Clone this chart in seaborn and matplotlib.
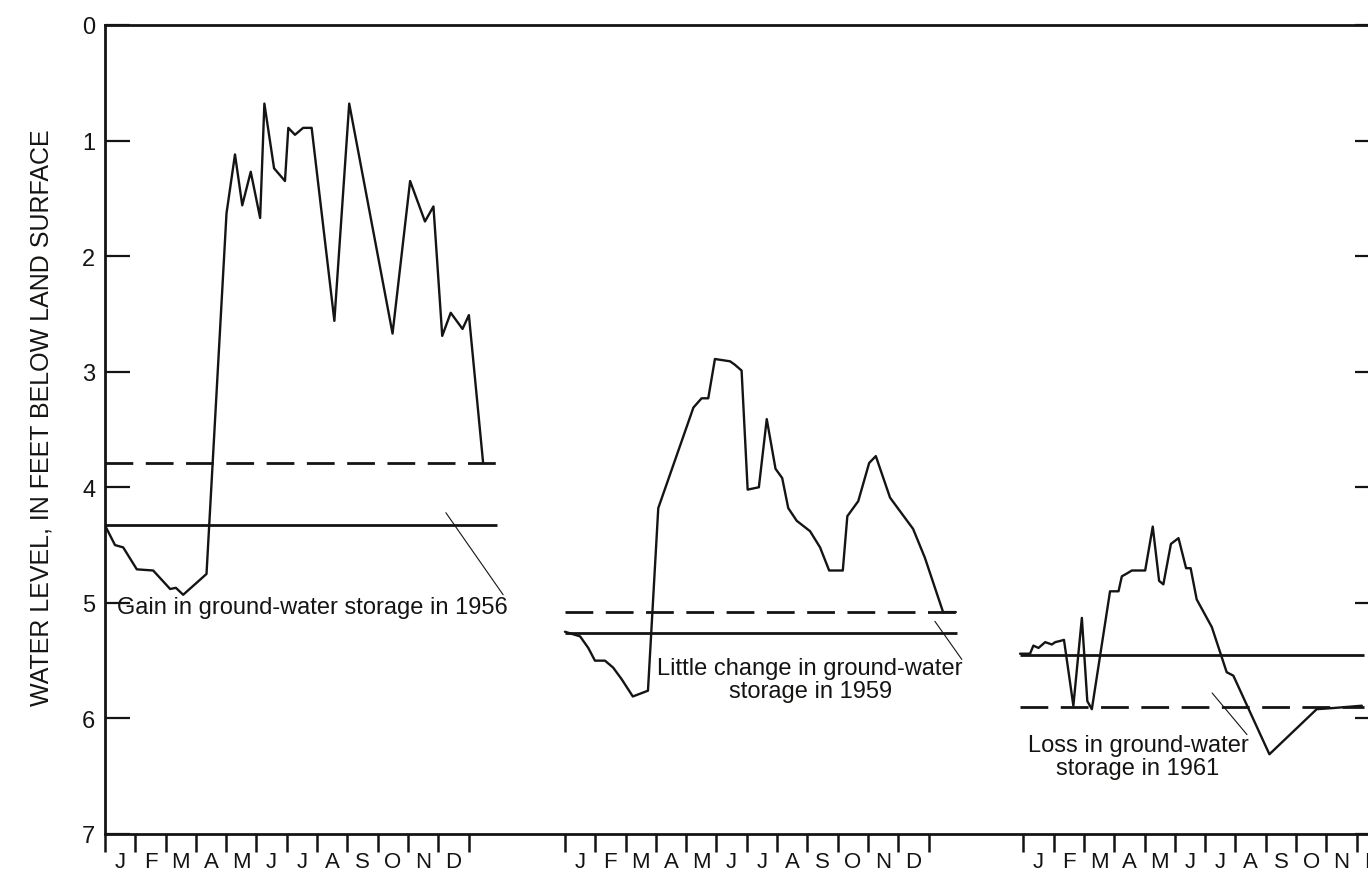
import matplotlib
matplotlib.use("Agg")
import matplotlib.pyplot as plt
import numpy as np
import pandas as pd
import seaborn as sns

# ---- data: water level (ft below land surface) vs. month of year ----
month_letters = ["J", "F", "M", "A", "M", "J", "J", "A", "S", "O", "N", "D"]

m1956 = [0.00, 0.33, 0.60, 1.05, 1.59, 2.15, 2.34, 2.58, 3.35, 4.01, 4.29, 4.53,
         4.81, 5.12, 5.26, 5.58, 5.94, 6.05, 6.27, 6.54, 6.82, 7.57, 8.06, 9.49,
         10.07, 10.56, 10.84, 11.13, 11.41, 11.80, 12.01, 12.48]
d1956 = [4.33, 4.50, 4.52, 4.71, 4.72, 4.88, 4.87, 4.93, 4.75, 1.63, 1.12, 1.56,
         1.27, 1.67, 0.68, 1.24, 1.35, 0.89, 0.95, 0.89, 0.89, 2.56, 0.68, 2.67,
         1.35, 1.70, 1.57, 2.69, 2.49, 2.63, 2.51, 3.79]

m1959 = [0.00, 0.50, 0.77, 0.99, 1.32, 1.59, 1.87, 2.24, 2.74, 3.08, 3.80, 4.24,
         4.51, 4.73, 4.95, 5.45, 5.61, 5.83, 6.03, 6.40, 6.66, 6.95, 7.17, 7.37,
         7.65, 8.09, 8.42, 8.72, 9.17, 9.32, 9.68, 10.04, 10.26, 10.73, 11.49,
         11.88, 12.48, 12.90]
d1959 = [5.25, 5.29, 5.39, 5.50, 5.50, 5.56, 5.66, 5.81, 5.76, 4.18, 3.64, 3.31,
         3.23, 3.23, 2.89, 2.91, 2.94, 2.99, 4.02, 4.00, 3.41, 3.84, 3.92, 4.18,
         4.29, 4.38, 4.52, 4.72, 4.72, 4.25, 4.12, 3.79, 3.73, 4.09, 4.36,
         4.61, 5.08, 5.08]

m1961 = [-0.11, 0.22, 0.33, 0.50, 0.72, 0.94, 1.05, 1.21, 1.34, 1.65, 1.93, 2.11,
         2.26, 2.86, 3.14, 3.25, 3.39, 3.58, 4.02, 4.27, 4.48, 4.62, 4.87, 5.12,
         5.37, 5.52, 5.72, 6.22, 6.71, 6.93, 8.12, 9.68, 10.23, 11.17]
d1961 = [5.44, 5.44, 5.37, 5.39, 5.34, 5.36, 5.34, 5.33, 5.32, 5.89, 5.13, 5.85,
         5.92, 4.90, 4.90, 4.77, 4.75, 4.72, 4.72, 4.34, 4.81, 4.84, 4.49, 4.44,
         4.70, 4.70, 4.97, 5.21, 5.60, 5.63, 6.31, 5.92, 5.91, 5.89]

# beginning-of-year (solid) and end-of-year (dashed) levels
start_levels = [4.33, 5.26, 5.45]
end_levels = [3.79, 5.08, 5.90]
years = [1956, 1959, 1961]
notes = ["Gain in ground-water storage in 1956",
         "Little change in ground-water\nstorage in 1959",
         "Loss in ground-water\nstorage in 1961"]

# ---- layout of the three yearly panels on one shared month axis ----
year_offsets = [0.0, 15.18, 30.31]
level_spans = [(0.0, 12.94), (0.0, 12.94), (-0.11, 11.25)]
n_ticks = [13, 13, 12]
note_xy = [(6.83, 5.04), (8.09, 5.66), (3.78, 6.33)]
leader = [((11.25, 4.22), (13.14, 4.93)),
          ((12.21, 5.16), (13.10, 5.49)),
          ((6.23, 5.78), (7.38, 6.14))]

sns.set_theme(style="white")
plt.rcParams["font.family"] = ["Liberation Sans", "DejaVu Sans"]

ink = "#161412"
fig = plt.figure(figsize=(13.68, 8.87), dpi=100)
fig.patch.set_facecolor("white")
ax = fig.add_axes([105 / 1368, 52 / 887, 1275 / 1368, 809 / 887])
ax.set_facecolor("white")

rows = []
for yr, off, ms, ds in zip(years, year_offsets, [m1956, m1959, m1961], [d1956, d1959, d1961]):
    for m, d in zip(ms, ds):
        rows.append({"year": yr, "x": off + m, "depth": d})
df = pd.DataFrame(rows)

for yr in years:
    sub = df[df["year"] == yr]
    sns.lineplot(data=sub, x="x", y="depth", ax=ax, color=ink, lw=1.7,
                 estimator=None, sort=False, legend=False)

major_ticks, minor_ticks, minor_labels = [], [], []
for i, off in enumerate(year_offsets):
    x0, x1 = level_spans[i]
    ax.plot([off + x0, off + x1], [start_levels[i]] * 2, color=ink, lw=2.0,
            solid_capstyle="butt")
    ax.plot([off + x0, off + x1], [end_levels[i]] * 2, color=ink, lw=2.0,
            dashes=(10, 4.5), dash_capstyle="butt")
    (lx0, ly0), (lx1, ly1) = leader[i]
    ax.plot([off + lx0, off + lx1], [ly0, ly1], color=ink, lw=0.8)
    nx, ny = note_xy[i]
    ax.text(off + nx, ny, notes[i], ha="center", va="center", fontsize=17,
            color=ink, linespacing=1.05)
    major_ticks += [off + k for k in range(n_ticks[i])]
    minor_ticks += [off + k + 0.5 for k in range(12)]
    minor_labels += month_letters

ax.set_xlim(0, 42.08)
ax.set_ylim(7, 0)
ax.set_yticks(range(8))
ax.set_yticklabels([str(v) for v in range(8)])
ax.set_xticks(major_ticks)
ax.set_xticklabels([""] * len(major_ticks))
ax.set_xticks(minor_ticks, minor=True)
ax.set_xticklabels(minor_labels, minor=True)

ax.tick_params(axis="x", which="major", direction="out", length=13, width=1.8,
               color=ink, bottom=True, top=False)
ax.tick_params(axis="x", which="minor", length=0, pad=12, labelsize=16,
               labelcolor=ink)
ax.tick_params(axis="y", which="major", direction="in", length=18, width=1.6,
               color=ink, left=True, right=True, pad=7, labelsize=17,
               labelcolor=ink)
for s in ax.spines.values():
    s.set_visible(True)
    s.set_color(ink)
    s.set_linewidth(2.0)

ax.set_xlabel("")
ax.set_ylabel("")
fig.text(42 / 1368, 1 - 418 / 887, "WATER LEVEL, IN FEET BELOW LAND SURFACE",
         rotation=90, ha="center", va="center", fontsize=18, color=ink)

fig.savefig("out.png", dpi=100, facecolor="white")
